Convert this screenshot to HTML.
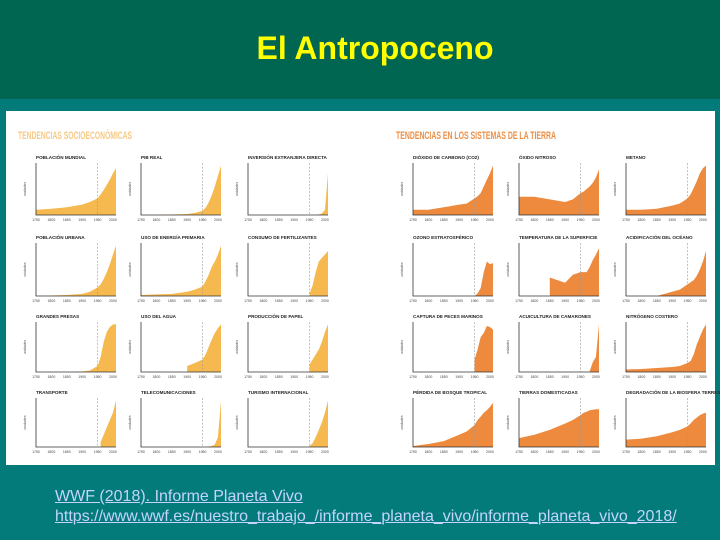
<!DOCTYPE html>
<html><head><meta charset="utf-8"><style>
body{margin:0;width:720px;height:540px;overflow:hidden;background:#037b7b;font-family:"Liberation Sans",sans-serif;position:relative}
#top{position:absolute;left:0;top:0;width:720px;height:99px;background:#006652}
#title{position:absolute;left:0;top:30px;width:750px;text-align:center;color:#ffff00;font-size:32px;font-weight:bold}
#panel{position:absolute;left:6px;top:111px;width:709px;height:354px;background:#fff}
#link{position:absolute;left:55px;top:487px;font-size:16px;line-height:20px;color:#c4d4ff}
#link a{color:#c4d4ff;text-decoration:underline}
</style></head><body>
<div id="top"></div>
<div id="title">El Antropoceno</div>
<div id="panel"></div>
<svg id="svg" width="720" height="540" style="position:absolute;left:0;top:0"></svg>
<div id="link"><a>WWF (2018). Informe Planeta Vivo</a><br><a>https://www.wwf.es/nuestro_trabajo_/informe_planeta_vivo/informe_planeta_vivo_2018/</a></div>
<script>
const years=[1750,1800,1850,1900,1925,1950,1960,1970,1980,1990,2000,2010];
const xTicks=["1750","1800","1850","1900","1950","2000"];
const socioTitles=["POBLACIÓN MUNDIAL","PIB REAL","INVERSIÓN EXTRANJERA DIRECTA","POBLACIÓN URBANA","USO DE ENERGÍA PRIMARIA","CONSUMO DE FERTILIZANTES","GRANDES PRESAS","USO DEL AGUA","PRODUCCIÓN DE PAPEL","TRANSPORTE","TELECOMUNICACIONES","TURISMO INTERNACIONAL"];
const earthTitles=["DIÓXIDO DE CARBONO (CO2)","ÓXIDO NITROSO","METANO","OZONO ESTRATOSFÉRICO","TEMPERATURA DE LA SUPERFICIE","ACIDIFICACIÓN DEL OCÉANO","CAPTURA DE PECES MARINOS","ACUICULTURA DE CAMARONES","NITRÓGENO COSTERO","PÉRDIDA DE BOSQUE TROPICAL","TIERRAS DOMESTICADAS","DEGRADACIÓN DE LA BIOSFERA TERRESTRE"];
const N=null;
const socioValues=[
[10,12,15,20,25,32,40,48,58,68,80,90],
[0,0,1,2,4,8,14,24,38,55,75,95],
[0,0,0,0,0,0,0,0,1,3,10,80],
[0,1,2,4,8,16,22,32,45,60,78,95],
[2,3,4,8,12,18,28,40,55,65,78,95],
[N,N,N,N,N,5,20,45,65,72,78,85],
[0,0,0,1,3,12,30,60,80,90,95,96],
[N,N,N,12,18,25,35,50,65,78,88,95],
[N,N,N,N,N,15,25,35,45,60,80,95],
[N,N,N,N,N,N,10,25,40,55,70,95],
[N,N,N,N,N,0,0,1,2,5,20,95],
[N,N,N,N,N,2,8,20,35,50,70,95]];
const earthValues=[
[10,10,15,20,22,32,36,42,55,68,80,95],
[35,35,30,25,30,42,45,50,55,62,72,88],
[10,10,12,18,22,32,40,52,65,80,90,95],
[N,N,N,N,N,0,5,15,45,65,60,62],
[N,N,35,25,40,45,45,45,55,68,78,90],
[N,N,0,8,12,22,26,30,38,50,65,85],
[N,N,N,N,N,25,45,70,78,92,90,85],
[N,N,N,N,N,N,N,N,2,20,30,95],
[5,6,8,10,12,18,22,35,55,70,85,95],
[2,6,12,25,32,45,55,62,70,75,82,90],
[18,25,35,48,55,65,70,72,75,76,77,77],
[15,17,22,30,35,42,48,55,60,65,68,70]];
const svg=document.getElementById('svg');
const NS="http://www.w3.org/2000/svg";
function mk(t,a){const e=document.createElementNS(NS,t);for(const k in a)e.setAttribute(k,a[k]);svg.appendChild(e);return e;}
function xs(y,x0,w){return x0+(y-1750)/(2010-1750)*w;}
function ys(v,y0,h){return y0+h-v/100*h;}
const colX=[[36,80],[141,80],[248,80],[413,80],[519,80],[626,80]];
const rowY=[[163,52],[243,53],[322,50],[398,49]];
function drawChart(title,vals,cx,ry,color,idx,grp){
  const x0=cx[0],w=cx[1],y0=ry[0],h=ry[1];
  let t=mk('text',{x:x0,y:y0-4,'font-size':'4.6px','font-weight':'bold',fill:'#222'});t.textContent=title;
  
  
  let pts=[];let first=null,last=null;
  vals.forEach((v,i)=>{if(v!==null){const px=xs(years[i],x0,w);if(first===null)first=px;last=px;pts.push(px+','+ys(v,y0,h));}});
  const p=mk('polygon',{points:first+','+(y0+h)+' '+pts.join(' ')+' '+last+','+(y0+h),fill:color});
  
  
  const d=xs(1950,x0,w);
  const l=mk('line',{x1:d,y1:y0,x2:d,y2:y0+h,stroke:'#999','stroke-width':0.6,'stroke-dasharray':'2,1.5'});
  
  
  const ax=mk('path',{d:'M'+x0+' '+y0+'V'+(y0+h)+'H'+(x0+w),stroke:'#333','stroke-width':0.8,fill:'none'});
  
  
  xTicks.forEach(tk=>{const tx=mk('text',{x:xs(+tk,x0,w),y:y0+h+6,'font-size':'3.5px','text-anchor':'middle',fill:'#444'});tx.textContent=tk;
    
    });
  const yl=mk('text',{x:x0-10,y:y0+h/2,'font-size':'3.5px','text-anchor':'middle',fill:'#555',transform:'rotate(-90 '+(x0-10)+' '+(y0+h/2)+')'});yl.textContent='unidades';
  
  
}
for(let i=0;i<12;i++){
  drawChart(socioTitles[i],socioValues[i],colX[i%3],rowY[Math.floor(i/3)],'#f6b94f',i,'socio');
  drawChart(earthTitles[i],earthValues[i],colX[3+i%3],rowY[Math.floor(i/3)],'#ee8a3e',i,'earth');
}
let h1=mk('text',{x:18,y:139,'font-size':'11px','font-weight':'bold',fill:'#f7c985',textLength:114,lengthAdjust:'spacingAndGlyphs'});h1.textContent='TENDENCIAS SOCIOECONÓMICAS';


let h2=mk('text',{x:396,y:139,'font-size':'11px','font-weight':'bold',fill:'#ea8f48',textLength:160,lengthAdjust:'spacingAndGlyphs'});h2.textContent='TENDENCIAS EN LOS SISTEMAS DE LA TIERRA';


</script>
</body></html>
